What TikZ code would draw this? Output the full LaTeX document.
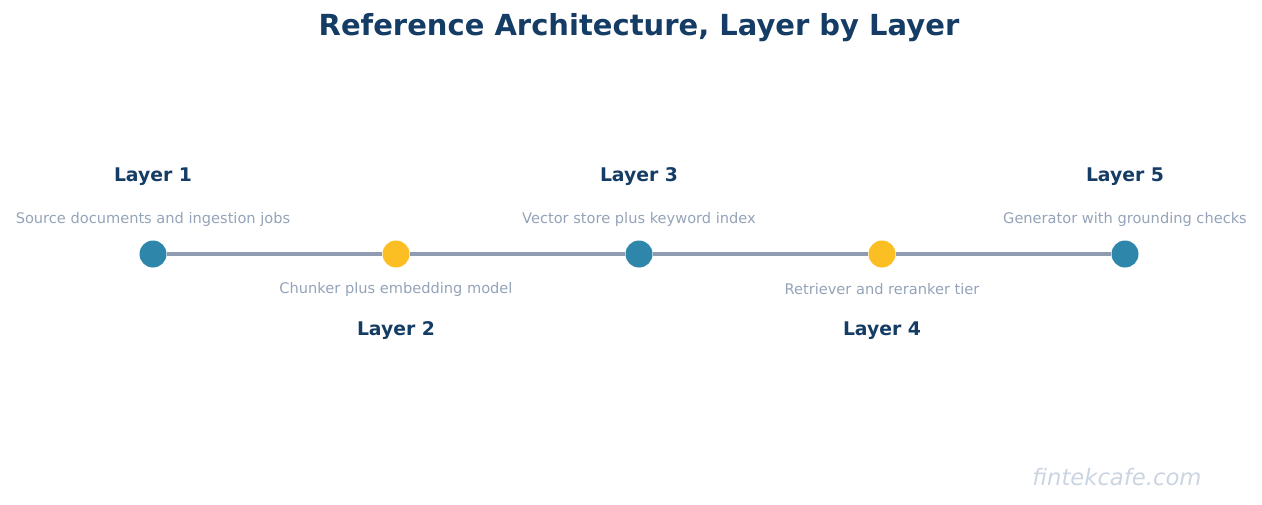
\documentclass[tikz,border=0pt]{standalone}
\usepackage{fontspec}
\setmainfont{DejaVu Sans}
\definecolor{navy}{HTML}{143C64}
\definecolor{teal}{HTML}{2E86AB}
\definecolor{gold}{HTML}{FBBF24}
\definecolor{linec}{HTML}{8E9BB0}
\definecolor{desc}{HTML}{94A3B8}
\definecolor{wm}{HTML}{CBD5E1}
\begin{document}
\begin{tikzpicture}[x=1pt,y=-1pt,
 dot/.style={circle,minimum size=27pt,inner sep=0pt},
 lay/.style={font=\fontsize{18.8}{22}\selectfont\bfseries,text=navy},
 dsc/.style={font=\fontsize{14.6}{17}\selectfont,text=desc}]
\useasboundingbox (0,0) rectangle (1262,504);
\node[font=\fontsize{29}{34}\selectfont\bfseries,text=navy] (title) at (639,28) {Reference Architecture, Layer by Layer};
\node[dot,fill=teal] (d1) at (153,254) {};
\node[dot,fill=gold] (d2) at (396,254) {};
\node[dot,fill=teal] (d3) at (639,254) {};
\node[dot,fill=gold] (d4) at (882,254) {};
\node[dot,fill=teal] (d5) at (1125,254) {};
\draw[linec,line width=4pt] (d1)--(d2) (d2)--(d3) (d3)--(d4) (d4)--(d5);
\node[lay] (l1) at (153,177) {Layer 1};
\node[dsc] (s1) at (153,219) {Source documents and ingestion jobs};
\node[lay] (l3) at (639,177) {Layer 3};
\node[dsc] (s3) at (639,219) {Vector store plus keyword index};
\node[lay] (l5) at (1125,177) {Layer 5};
\node[dsc] (s5) at (1125,219) {Generator with grounding checks};
\node[dsc] (s2) at (396,289) {Chunker plus embedding model};
\node[lay] (l2) at (396,331) {Layer 2};
\node[dsc] (s4) at (882,289) {Retriever and reranker tier};
\node[lay] (l4) at (882,331) {Layer 4};
\node[font=\fontsize{22.7}{26}\selectfont\itshape,text=wm] (w) at (1117,477) {fintekcafe.com};
\end{tikzpicture}
\end{document}
